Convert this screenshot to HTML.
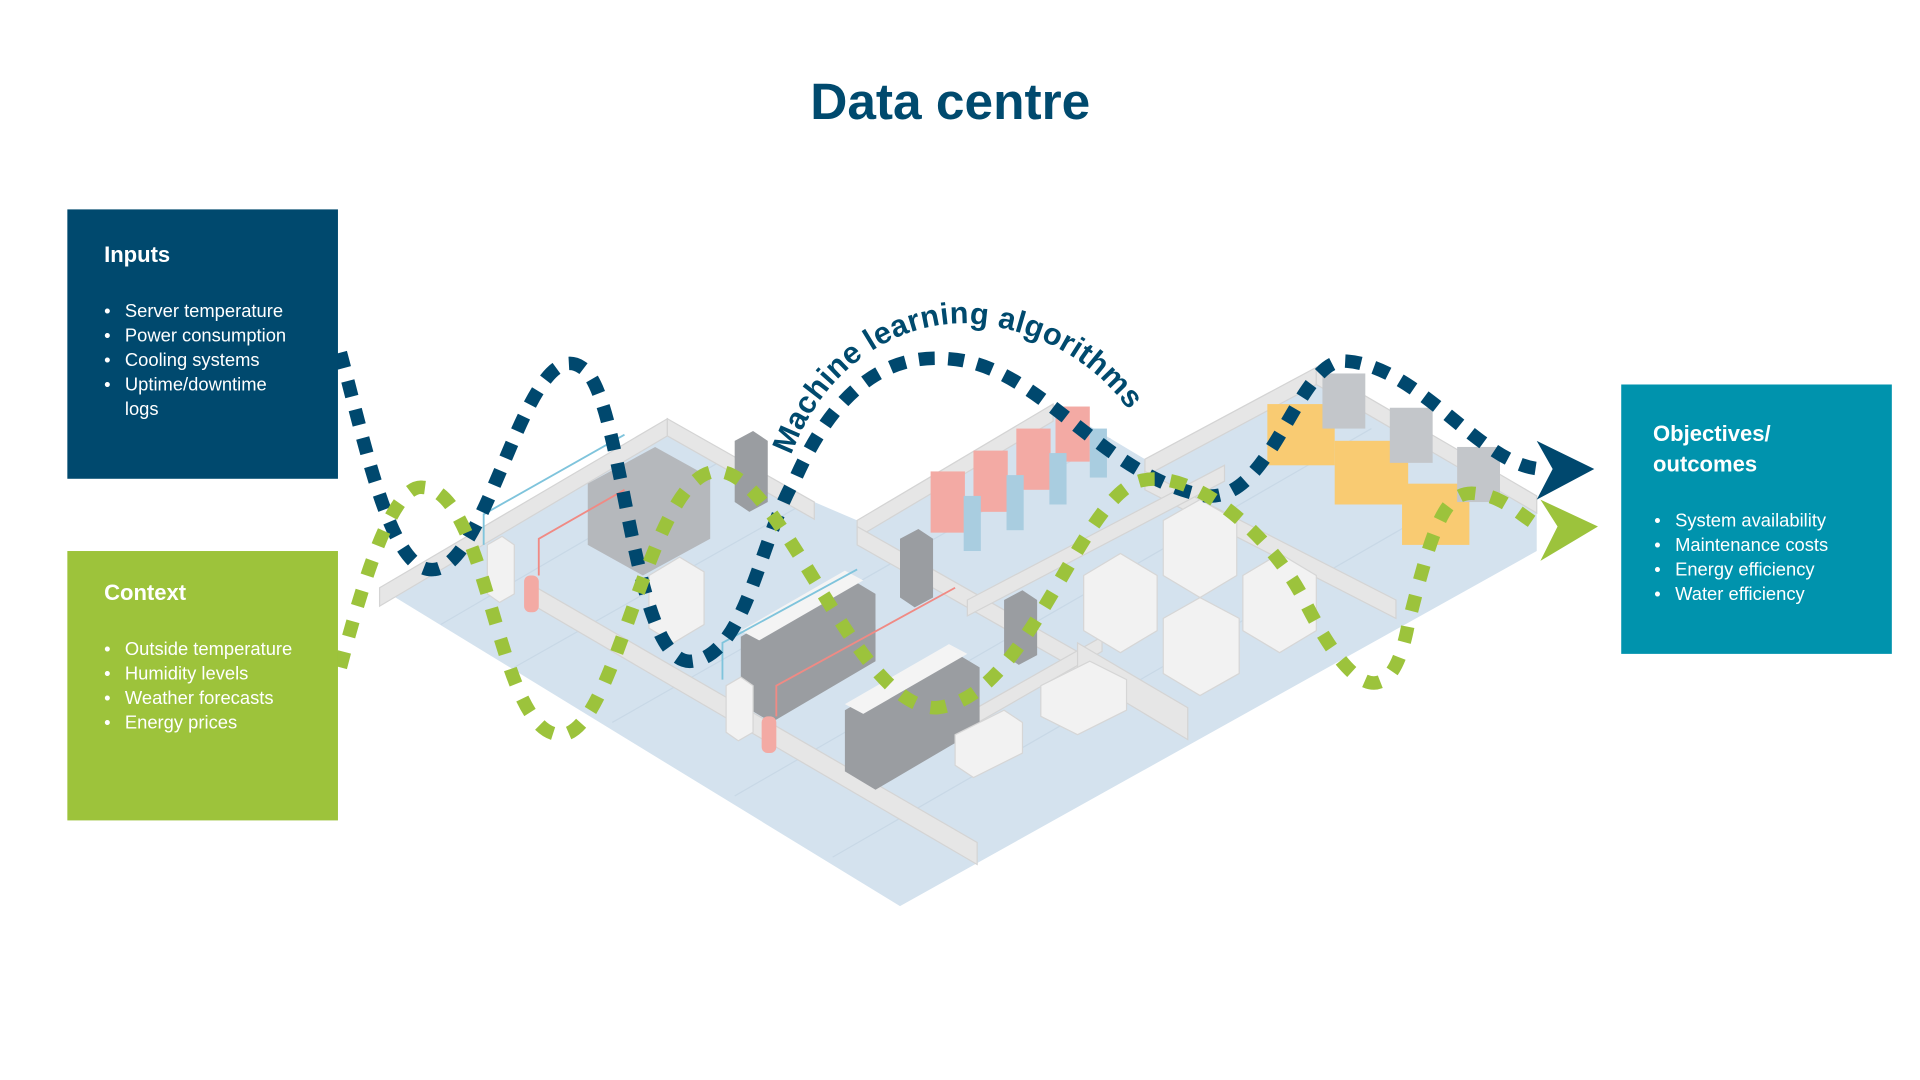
<!DOCTYPE html>
<html><head><meta charset="utf-8"><style>
html,body{margin:0;padding:0;background:#fff;width:1920px;height:1080px;overflow:hidden}
svg{display:block}
text{font-family:"Liberation Sans",sans-serif}
</style></head><body>
<svg width="1920" height="1080" viewBox="0 0 1568 882" xmlns="http://www.w3.org/2000/svg">
<defs><clipPath id="fl"><polygon points="310,480 545,342 665,410 700,425 860,330 935,375 1075,300 1255,405 1255,450 735,740"/></clipPath></defs>
<text x="776" y="97" text-anchor="middle" font-size="42" font-weight="bold" fill="#004a6e">Data centre</text>

<!-- floor -->
<polygon points="310,480 545,342 665,410 700,425 860,330 935,375 1075,300 1255,405 1255,450 735,740" fill="#d4e2ee"/>
<g stroke="#c8d8e6" stroke-width="1" clip-path="url(#fl)">
<line x1="360" y1="510" x2="600" y2="370"/><line x1="420" y1="545" x2="880" y2="285"/>
<line x1="500" y1="590" x2="1000" y2="305"/><line x1="600" y1="650" x2="1120" y2="350"/>
<line x1="680" y1="700" x2="1200" y2="400"/>
</g>
<!-- walls -->
<g fill="#e6e6e6" stroke="#d4d4d4" stroke-width="1">
<polygon points="310,480 545,342 545,356 310,495"/>
<polygon points="545,342 665,410 665,424 545,356"/>
<polygon points="700,425 860,330 860,344 700,439"/>
<polygon points="935,375 1075,300 1075,314 935,389"/>
<polygon points="1075,300 1255,405 1255,419 1075,314"/>
<polygon points="435,478 798,688 798,706 435,494"/>
<polygon points="700,430 885,535 885,550 700,445"/>
<polygon points="715,625 900,520 900,532 715,638"/>
<polygon points="880,525 970,578 970,604 880,550"/>
<polygon points="935,385 1140,490 1140,505 935,400"/>
<polygon points="790,490 1000,380 1000,393 790,503"/>
</g>
<!-- equipment -->
<g fill="#9a9da1">
<polygon points="600,360 615,352 627,360 627,410 612,418 600,410"/>
<polygon points="735,440 750,432 762,440 762,488 747,496 735,488"/>
<polygon points="820,490 835,482 847,490 847,535 832,543 820,535"/>
<polygon points="605,520 690,470 715,485 715,540 630,590 605,575"/>
<polygon points="690,580 775,530 800,545 800,595 715,645 690,630"/>
</g>
<g fill="#f4f4f4"><polygon points="605,515 690,466 705,474 620,523"/><polygon points="690,575 775,526 790,534 705,583"/></g>
<g fill="#b5b8bc">
<polygon points="480,395 535,365 580,390 580,440 525,470 480,445"/>
</g>
<g fill="#f2f2f2" stroke="#d6d6d6">
<polygon points="530,470 555,455 575,467 575,510 550,525 530,513"/>
<polygon points="885,470 915,452 945,470 945,515 915,533 885,515"/>
<polygon points="950,425 980,408 1010,425 1010,470 980,488 950,470"/>
<polygon points="950,505 980,488 1012,505 1012,550 980,568 950,550"/>
<polygon points="1015,470 1045,452 1075,470 1075,515 1045,533 1015,515"/>
<polygon points="398,445 410,438 420,445 420,485 408,492 398,485"/>
<polygon points="593,560 605,553 615,560 615,598 603,605 593,598"/>
<polygon points="780,600 820,580 835,590 835,615 795,635 780,625"/>
<polygon points="850,560 890,540 920,555 920,580 880,600 850,585"/>
</g>
<g fill="#f3aaa4"><rect x="760" y="385" width="28" height="50"/><rect x="795" y="368" width="28" height="50"/><rect x="830" y="350" width="28" height="50"/><rect x="862" y="332" width="28" height="45"/>
<rect x="428" y="470" width="12" height="30" rx="5"/><rect x="622" y="585" width="12" height="30" rx="5"/></g>
<g fill="#a9cde0"><rect x="787" y="405" width="14" height="45"/><rect x="822" y="388" width="14" height="45"/><rect x="857" y="370" width="14" height="42"/><rect x="890" y="350" width="14" height="40"/></g>
<g fill="#f9cb72"><rect x="1035" y="330" width="55" height="50"/><rect x="1090" y="360" width="60" height="52"/><rect x="1145" y="395" width="55" height="50"/></g>
<g fill="#c3c6ca"><rect x="1080" y="305" width="35" height="45"/><rect x="1135" y="333" width="35" height="45"/><rect x="1190" y="365" width="35" height="45"/></g>
<g stroke="#f08a84" stroke-width="1.5" fill="none"><path d="M440,470 L440,440 L510,400"/><path d="M634,585 L634,560 L780,480"/></g>
<g stroke="#7fc4dc" stroke-width="1.5" fill="none"><path d="M395,445 L395,420 L510,355"/><path d="M590,555 L590,525 L700,465"/></g>

<!-- dashed paths -->
<path d="M278,288 C300,370 320,470 355,465 C400,460 430,270 475,300 C510,320 515,545 565,540 C610,535 620,440 650,390 C690,300 740,290 775,293 C850,298 900,390 985,405 C1040,410 1060,290 1100,295 C1160,300 1210,380 1258,383" fill="none" stroke="#00486e" stroke-width="11" stroke-dasharray="13 11"/>
<path d="M278,545 C295,480 320,395 345,398 C400,400 405,600 458,600 C505,600 530,380 588,385 C640,390 700,580 765,578 C840,570 880,410 930,393 C975,380 1040,440 1065,490 C1100,560 1135,590 1150,510 C1170,430 1180,400 1205,403 C1230,405 1245,425 1262,432" fill="none" stroke="#9cc33c" stroke-width="11" stroke-dasharray="13 13"/>
<polygon points="1255,360 1302,383 1255,408 1268,383" fill="#00486e"/>
<polygon points="1258,408 1305,430 1258,458 1272,430" fill="#9cc33c"/>

<path id="arc" d="M646,372 C675,295 735,265 785,264 C850,266 905,300 934,355" fill="none"/>
<text font-size="25" font-weight="bold" fill="#004a6e" letter-spacing="0.3"><textPath href="#arc">Machine learning algorithms</textPath></text>

<!-- boxes -->
<rect x="55" y="171" width="221" height="220" fill="#00496e"/>
<rect x="55" y="450" width="221" height="220" fill="#9dc33b"/>
<rect x="1324" y="314" width="221" height="220" fill="#0093ad"/>
<g fill="#fff" font-size="15">
<text x="85" y="214" font-size="18" font-weight="bold">Inputs</text>
<text x="85" y="259">•</text><text x="102" y="259">Server temperature</text>
<text x="85" y="279">•</text><text x="102" y="279">Power consumption</text>
<text x="85" y="299">•</text><text x="102" y="299">Cooling systems</text>
<text x="85" y="319">•</text><text x="102" y="319">Uptime/downtime</text>
<text x="102" y="339">logs</text>
<text x="85" y="490" font-size="18" font-weight="bold">Context</text>
<text x="85" y="535">•</text><text x="102" y="535">Outside temperature</text>
<text x="85" y="555">•</text><text x="102" y="555">Humidity levels</text>
<text x="85" y="575">•</text><text x="102" y="575">Weather forecasts</text>
<text x="85" y="595">•</text><text x="102" y="595">Energy prices</text>
<text x="1350" y="360" font-size="18" font-weight="bold">Objectives/</text>
<text x="1350" y="385" font-size="18" font-weight="bold">outcomes</text>
<text x="1351" y="430">•</text><text x="1368" y="430">System availability</text>
<text x="1351" y="450">•</text><text x="1368" y="450">Maintenance costs</text>
<text x="1351" y="470">•</text><text x="1368" y="470">Energy efficiency</text>
<text x="1351" y="490">•</text><text x="1368" y="490">Water efficiency</text>
</g>
</svg>
</body></html>
